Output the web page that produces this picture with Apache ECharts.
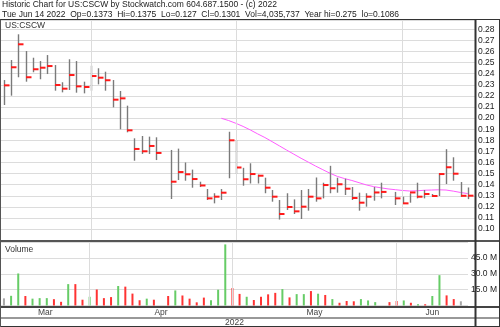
<!DOCTYPE html>
<html><head><meta charset="utf-8">
<script src="https://cdn.jsdelivr.net/npm/echarts@6/dist/echarts.min.js"></script>
<style>html,body{margin:0;padding:0;background:#fff}#c{width:500px;height:327px}</style>
</head><body><div id="c"></div>
<script>
// One slot per weekday, 2022-03-16 .. 2022-06-14 (holidays left empty)
const dates = ['03-16','03-17','03-18','03-21','03-22','03-23','03-24','03-25','03-28','03-29','03-30','03-31',
'04-01','04-04','04-05','04-06','04-07','04-08','04-11','04-12','04-13','04-14','04-15','04-18','04-19','04-20','04-21','04-22','04-25','04-26','04-27','04-28','04-29',
'05-02','05-03','05-04','05-05','05-06','05-09','05-10','05-11','05-12','05-13','05-16','05-17','05-18','05-19','05-20','05-23','05-24','05-25','05-26','05-27','05-30','05-31',
'06-01','06-02','06-03','06-06','06-07','06-08','06-09','06-10','06-13','06-14'];
const high = [0.2343,0.2523,0.2755,0.2604,0.2544,0.2514,0.2568,0.2478,0.2323,0.2530,0.2514,0.2328,
0.2472,0.2449,0.2418,0.2343,0.2244,0.2112,0.1818,0.1839,0.1833,0.1827,null,0.1713,0.1725,0.1600,0.1536,0.1427,0.1361,0.1323,0.1361,0.1877,0.1800,
0.1552,0.1593,0.1490,0.1463,0.1352,0.1262,0.1323,0.1268,0.1352,0.1361,0.1465,0.1418,0.1570,0.1463,0.1454,0.1379,0.1328,0.1323,0.1379,0.1418,null,0.1335,
0.1292,0.1322,0.1418,0.1352,0.1316,0.1503,0.1720,0.1647,0.1424,0.1375];
const low = [0.2118,0.2202,0.2368,0.2328,0.2413,0.2350,0.2397,0.2247,0.2232,0.2253,0.2229,0.2223,
0.2247,0.2304,0.2247,0.2097,0.1899,0.1872,0.1616,0.1677,0.1677,0.1622,null,0.1271,0.1442,0.1436,0.1373,0.1379,0.1262,0.1232,0.1262,0.1458,0.1500,
0.1391,0.1411,0.1411,0.1323,0.1247,0.1086,0.1172,0.1136,0.1091,0.1166,0.1247,0.1277,0.1323,0.1328,0.1307,0.1262,0.1166,0.1202,0.1256,0.1277,null,0.1217,
0.1232,0.1238,0.1277,0.1277,0.1292,0.1298,0.1406,0.1436,0.1292,0.1270];
const close = [0.2295,0.2458,0.2665,0.2368,0.2440,0.2454,0.2469,0.2298,0.2265,0.2388,0.2286,0.2280,
0.2379,0.2364,0.2341,0.2166,0.2178,0.1890,0.1722,0.1701,0.1749,0.1686,null,0.1427,0.1514,0.1494,0.1451,0.1393,0.1277,0.1292,0.1328,0.1800,0.1555,
0.1449,0.1496,0.1481,0.1373,0.1292,0.1136,0.1199,0.1160,0.1202,0.1292,0.1277,0.1397,0.1368,0.1404,0.1364,0.1280,0.1238,0.1292,0.1330,0.1335,null,0.1277,
0.1232,0.1330,0.1292,0.1316,0.1298,0.1496,0.1557,0.1499,0.1300,0.1301];
const volumeM = [6.8,9.2,30.4,9.0,6.5,7.0,7.0,6.0,3.5,20.3,20.3,5.5,
8.3,15.2,7.0,8.0,18.5,17.9,11.3,5.0,6.5,5.5,null,9.0,14.3,9.5,6.5,3.0,7.5,5.0,15.0,58.0,16.6,
11.0,8.3,5.2,8.3,10.6,12.0,15.6,7.7,10.8,10.8,13.7,11.2,10.0,6.1,2.6,4.3,4.0,6.1,4.8,3.2,null,3.2,
4.3,4.8,2.6,1.2,1.2,9.0,28.8,9.6,6.1,4.0];
const movingAvg = [null,null,null,null,null,null,null,null,null,null,null,null,
null,null,null,null,null,null,null,null,null,null,null,null,null,null,null,null,null,null,0.1998,0.1978,0.1953,
0.1925,0.1893,0.1858,0.1825,0.1788,0.1750,0.1712,0.1675,0.1638,0.1603,0.1568,0.1535,0.1503,0.1475,0.1455,0.1438,0.1418,0.1398,0.1383,0.1372,0.1362,0.1355,
0.1348,0.1343,0.1345,0.1350,0.1352,0.1354,0.1352,0.1342,0.1330,0.1320];
const monthNames = ['Mar','Apr','May','Jun'];
const monthLineSlots = [12, 32, 55];
const yearLabel = '2022';
const titleLine1 = 'Historic Chart for US:CSCW by Stockwatch.com 604.687.1500 - (c) 2022';
const titleLine2 = 'Tue Jun 14 2022  Op=0.1373  Hi=0.1375  Lo=0.127  Cl=0.1301  Vol=4,035,737  Year hi=0.275  lo=0.1086';
const symbolLabel = 'US:CSCW';
const volumeLabel = 'Volume';

const FONT = 'Liberation Sans, Arial, sans-serif';
const XMIN = -0.414, XMAX = 65.0;

const ohlc = [], vols = [], ma = [];
for (let i = 0; i < dates.length; i++) {
  if (close[i] != null) ohlc.push([i, high[i], low[i], close[i]]);
  if (volumeM[i] != null) {
    let prev = null;
    for (let j = i - 1; j >= 0; j--) if (close[j] != null) { prev = close[j]; break; }
    let col = '#a8a8a8';
    if (prev != null && Math.abs(close[i] - prev) > 0.0002) col = close[i] > prev ? '#66cc66' : '#ff3333';
    vols.push({ value: [i, volumeM[i]], itemStyle: { color: col } });
  }
  if (movingAvg[i] != null) ma.push([i, movingAvg[i]]);
}

const chart = echarts.init(document.getElementById('c'), null, { renderer: 'canvas' });
const mLine = {
  silent: true, symbol: 'none', animation: false,
  label: { show: false },
  lineStyle: { color: '#dcdcdc', type: 'solid', width: 1 },
  data: monthLineSlots.map(s => ({ xAxis: s }))
};
chart.setOption({
  animation: false,
  backgroundColor: '#fff',
  grid: [
    { left: 1, right: 25, top: 20.3, height: 219.9 },
    { left: 1, right: 25, top: 242.3, height: 63.2 }
  ],
  xAxis: [
    { type: 'value', gridIndex: 0, min: XMIN, max: XMAX, show: false },
    { type: 'value', gridIndex: 1, min: XMIN, max: XMAX, show: false }
  ],
  yAxis: [
    { type: 'value', gridIndex: 0, position: 'right', min: 0.09, max: 0.28811, interval: 0.01,
      axisLine: { show: false }, axisTick: { show: false },
      splitLine: { lineStyle: { color: '#dcdcdc', width: 1 } },
      axisLabel: { margin: 3, fontSize: 8.5, color: '#222', fontFamily: FONT,
        formatter: v => (v > 0.0995 && v < 0.2805) ? v.toFixed(2) : '' } },
    { type: 'value', gridIndex: 1, position: 'right', min: 0, max: 60, interval: 15,
      axisLine: { show: false }, axisTick: { show: false },
      splitLine: { lineStyle: { color: '#dcdcdc', width: 1 } },
      axisLabel: { margin: 3, fontSize: 8.5, color: '#222', fontFamily: FONT,
        formatter: v => (v > 0 && v < 60) ? v.toFixed(1) + ' M' : '' } }
  ],
  series: [
    { type: 'line', xAxisIndex: 0, yAxisIndex: 0, data: ma, showSymbol: false, z: 2,
      lineStyle: { color: '#ff5cff', width: 1 }, markLine: mLine },
    { type: 'custom', xAxisIndex: 0, yAxisIndex: 0, data: ohlc, z: 3,
      encode: { x: 0, y: [1, 2, 3] },
      renderItem: function (params, api) {
        const i = api.value(0);
        const pH = api.coord([i, api.value(1)]);
        const pL = api.coord([i, api.value(2)]);
        const pC = api.coord([i, api.value(3)]);
        const x = Math.round(pH[0]) + 0.5;
        return { type: 'group', children: [
          { type: 'line', shape: { x1: x, y1: pH[1], x2: x, y2: pL[1] }, style: { stroke: '#7a7a7a', lineWidth: 1.4 } },
          { type: 'rect', shape: { x: x - 0.5, y: pC[1] - 1, width: 5.5, height: 2 }, style: { fill: '#ff1a1a' } }
        ] };
      } },
    { type: 'bar', xAxisIndex: 1, yAxisIndex: 1, data: vols, barWidth: 2, z: 3, markLine: mLine }
  ]
});

function px(v) { return chart.convertToPixel({ xAxisIndex: 1 }, v); }
const bounds = [XMIN].concat(monthLineSlots).concat([XMAX]);
const gfx = [];
monthNames.forEach((m, k) => {
  const c = (bounds[k] + bounds[k + 1]) / 2;
  gfx.push({ type: 'text', x: px(c), y: 312.8, style: { text: m, font: '8.5px ' + FONT, fill: '#444', align: 'center', verticalAlign: 'middle' } });
});
gfx.push({ type: 'text', x: px((XMIN + XMAX) / 2), y: 322.5, style: { text: yearLabel, font: '8.5px ' + FONT, fill: '#444', align: 'center', verticalAlign: 'middle' } });
gfx.push({ type: 'text', x: 2, y: 5, style: { text: titleLine1, font: '8.5px ' + FONT, fill: '#222', verticalAlign: 'middle' } });
gfx.push({ type: 'text', x: 2, y: 14.5, style: { text: titleLine2, font: '8.5px ' + FONT, fill: '#222', verticalAlign: 'middle' } });
gfx.push({ type: 'text', x: 5, y: 25.5, style: { text: symbolLabel, font: '8.5px ' + FONT, fill: '#333', verticalAlign: 'middle' } });
gfx.push({ type: 'text', x: 5, y: 249.5, style: { text: volumeLabel, font: '8.5px ' + FONT, fill: '#333', verticalAlign: 'middle' } });
function hl(y, w, c) { gfx.push({ type: 'line', z: 100, shape: { x1: 0, y1: y, x2: 500, y2: y }, style: { stroke: c, lineWidth: w } }); }
function vl(x, y1, y2, w, c) { gfx.push({ type: 'line', z: 100, shape: { x1: x, y1: y1, x2: x, y2: y2 }, style: { stroke: c, lineWidth: w } }); }
hl(19.5, 1, '#333');
hl(241, 2, '#555');
hl(307, 2, '#444');
hl(318, 1, '#333');
hl(326.5, 1, '#333');
vl(0.5, 19.5, 327, 1, '#555');
vl(499.5, 19.5, 327, 1, '#333');
vl(475.5, 19.5, 327, 2, '#333');
chart.setOption({ graphic: gfx });
</script>
</body></html>
